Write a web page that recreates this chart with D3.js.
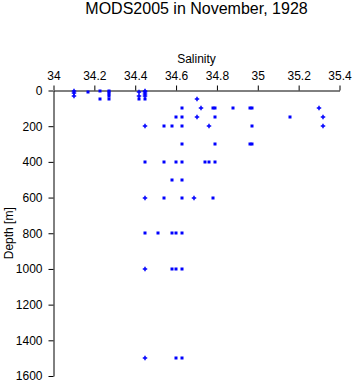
<!DOCTYPE html>
<html>
<head>
<meta charset="utf-8">
<script src="https://cdn.jsdelivr.net/npm/d3@7"></script>
<style>
  body { margin: 0; background: white; }
  text { font-family: "Liberation Sans", Arial, sans-serif; }
</style>
</head>
<body>
<div id="svg-container"></div>
<script>
// establish variables
var svgWidth   = 353;
var svgHeight  = 384;
var plotLeft   = 53.5;   // x of the depth axis
var plotRight  = 339.5;  // x of salinity 35.4
var plotTop    = 90.5;   // y of the salinity axis
var plotBottom = 376;    // y of depth 1600

// tick values
var salTicks   = [34, 34.2, 34.4, 34.6, 34.8, 35, 35.2, 35.4];
var depthTicks = [0, 200, 400, 600, 800, 1000, 1200, 1400, 1600];

// observations drawn as small squares
var squareSal   = [34.17, 34.23, 34.23, 34.27, 34.27, 34.27, 34.27, 34.27, 34.42, 34.45,
                   34.63, 34.78, 34.79, 34.88, 34.96, 34.97,
                   34.60, 34.63, 34.79, 35.16,
                   34.54, 34.58, 34.63, 34.97,
                   34.63, 34.79, 34.96, 34.97,
                   34.45, 34.54, 34.60, 34.63, 34.74, 34.76, 34.79,
                   34.58, 34.63,
                   34.54, 34.63, 34.78,
                   34.45, 34.51, 34.58, 34.60, 34.63,
                   34.58, 34.60, 34.63,
                   34.60, 34.63];
var squareDepth = [10, 0, 50, 0, 10, 20, 30, 50, 50, 50,
                   100, 100, 100, 100, 100, 100,
                   150, 150, 150, 150,
                   200, 200, 200, 200,
                   300, 300, 300, 300,
                   400, 400, 400, 400, 400, 400, 400,
                   500, 500,
                   600, 600, 600,
                   800, 800, 800, 800, 800,
                   1000, 1000, 1000,
                   1500, 1500];

// observations drawn as plus signs
var crossSal   = [34.10, 34.10, 34.10, 34.42, 34.42, 34.45, 34.45, 34.45, 34.45,
                  34.45, 34.45, 34.45, 34.45,
                  34.70, 34.70, 34.72, 34.76, 34.69, 35.30, 35.32, 35.32];
var crossDepth = [0, 15, 30, 10, 30, 0, 10, 20, 30,
                  200, 600, 1000, 1500,
                  50, 150, 100, 200, 600, 100, 150, 200];

// scales
var xScale = d3.scaleLinear().domain([34, 35.4]).range([plotLeft, plotRight]);
var yScale = d3.scaleLinear().domain([0, 1600]).range([plotTop, plotBottom]);

var xAxis = d3.axisTop(xScale)
              .tickValues(salTicks)
              .tickFormat(d3.format("~g"))
              .tickSizeInner(5)
              .tickSizeOuter(0)
              .tickPadding(6);

var yAxis = d3.axisLeft(yScale)
              .tickValues(depthTicks)
              .tickFormat(d3.format("d"))
              .tickSizeInner(5)
              .tickSizeOuter(0)
              .tickPadding(6);

// append svg to its container
var svg = d3.select("#svg-container")
            .append("svg")
            .attr("width", svgWidth)
            .attr("height", svgHeight);

svg.append("rect")
    .attr("width", "100%")
    .attr("height", "100%")
    .style("fill", "white");

// axes
svg.append("g")
    .attr("transform", "translate(0," + plotTop + ")")
    .call(xAxis);

svg.append("g")
    .attr("transform", "translate(" + plotLeft + ",0)")
    .call(yAxis);

svg.selectAll(".domain").attr("stroke", "black").attr("stroke-width", 1);
svg.selectAll(".tick line").attr("stroke", "black");
svg.selectAll(".tick text")
    .attr("font-family", "Liberation Sans, Arial, sans-serif")
    .attr("font-size", 12)
    .attr("fill", "black");

// squares
svg.append("g")
  .selectAll("rect")
  .data(squareSal)
  .enter()
    .append("rect")
    .attr("x", function(d) { return Math.round(xScale(d)) - 1.5; })
    .attr("y", function(d, i) { return Math.round(yScale(squareDepth[i])) - 1.5; })
    .attr("width", 3)
    .attr("height", 3)
    .style("fill", "#0000ff");

// plus signs
var cross = d3.symbol().type(d3.symbolCross).size(11);
svg.append("g")
  .selectAll("path")
  .data(crossSal)
  .enter()
    .append("path")
    .attr("d", cross)
    .attr("transform", function(d, i) {
      return "translate(" + Math.round(xScale(d)) + "," + Math.round(yScale(crossDepth[i])) + ")";
    })
    .style("fill", "#0000ff");

// axis titles
svg.append("text")
    .attr("x", (plotLeft + plotRight) / 2)
    .attr("y", 63)
    .attr("text-anchor", "middle")
    .attr("font-size", 12)
    .text("Salinity");

svg.append("text")
    .attr("transform", "translate(13," + (plotTop + plotBottom) / 2 + ") rotate(-90)")
    .attr("text-anchor", "middle")
    .attr("font-size", 12)
    .text("Depth [m]");

// title
svg.append("text")
    .attr("x", (plotLeft + plotRight) / 2)
    .attr("y", 14)
    .attr("text-anchor", "middle")
    .attr("font-size", 16)
    .text("MODS2005 in November, 1928");
</script>
</body>
</html>
